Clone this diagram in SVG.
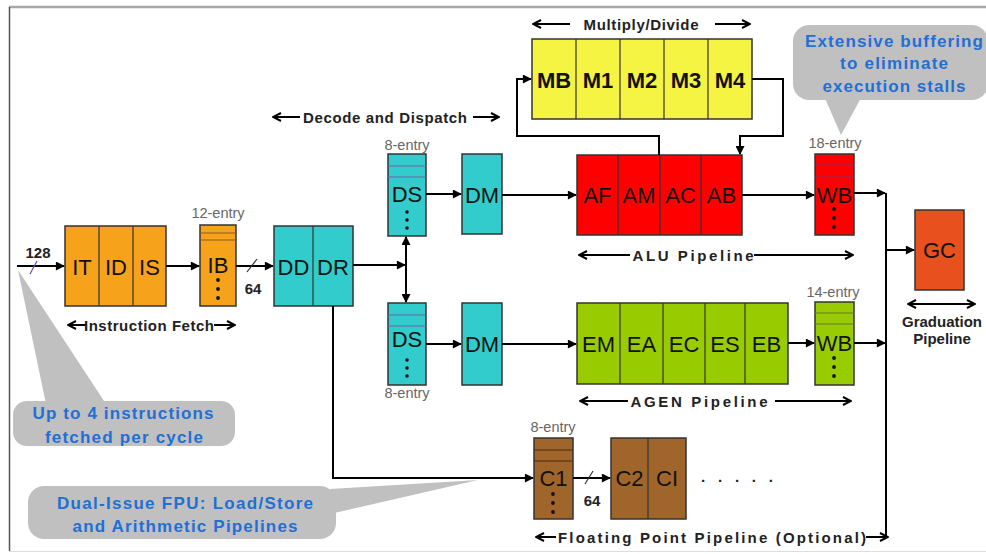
<svg xmlns="http://www.w3.org/2000/svg" width="986" height="554" viewBox="0 0 986 554">
<defs>
<marker id="ah" viewBox="0 0 10 10" refX="9" refY="5" markerWidth="10" markerHeight="9" markerUnits="userSpaceOnUse" orient="auto-start-reverse"><path d="M0,0 L10,5 L0,10 z" fill="#000"/></marker>
<marker id="ch" viewBox="0 0 10 10" refX="9" refY="5" markerWidth="10" markerHeight="10" markerUnits="userSpaceOnUse" orient="auto-start-reverse"><path d="M1,1 L9,5 L1,9" fill="none" stroke="#000" stroke-width="2"/></marker>
<style>
.box{stroke:#333;stroke-width:1.5}
.div{stroke:#333;stroke-width:1.2}
.lbl{font-family:"Liberation Sans",Arial,sans-serif;font-size:22px;fill:#111;text-anchor:middle;dominant-baseline:central}
.cap{font-family:"Liberation Sans",Arial,sans-serif;font-size:15px;font-weight:bold;fill:#222;text-anchor:middle;dominant-baseline:central}
.ent{font-family:"Liberation Sans",Arial,sans-serif;font-size:14.5px;fill:#666;text-anchor:middle}
.call{fill:#C0C0C0}
.ct{font-family:"Liberation Sans",Arial,sans-serif;font-size:17px;font-weight:bold;fill:#1E6FD6;text-anchor:middle}
.wire{fill:none;stroke:#000;stroke-width:2}
.la{fill:none;stroke:#000;stroke-width:2}
.dot{fill:#111}
</style>
</defs>
<rect width="986" height="554" fill="#fff"/>
<g id="frame">
<line x1="9" y1="7" x2="986" y2="7" stroke="#a8a8a8" stroke-width="2.5"/>
<line x1="9.5" y1="7" x2="9.5" y2="551" stroke="#555" stroke-width="1.5"/>
<line x1="9" y1="551.5" x2="986" y2="551.5" stroke="#ddd" stroke-width="1"/>
</g>

<g id="callout-fetch">
<polygon class="call" points="18,270 46,404 106,404"/>
<rect class="call" x="13" y="401" width="222" height="45" rx="14"/>
<text class="ct" x="123" y="419" textLength="181">Up to 4 instructions</text>
<text class="ct" x="124" y="443" textLength="158">fetched per cycle</text>
</g>
<g id="callout-fpu">
<polygon class="call" points="330,489 478,480 330,514"/>
<rect class="call" x="28" y="486" width="308" height="53" rx="16"/>
<text class="ct" x="185" y="509" textLength="256">Dual-Issue FPU: Load/Store</text>
<text class="ct" x="185" y="532" textLength="225">and Arithmetic Pipelines</text>
</g>
<g id="callout-buffer">
<polygon class="call" points="824,96 841,135 862,96"/>
<rect class="call" x="793" y="25" width="195" height="75" rx="16"/>
<text class="ct" x="894" y="47" textLength="178">Extensive buffering</text>
<text class="ct" x="894" y="69" textLength="108">to eliminate</text>
<text class="ct" x="894" y="92" textLength="143">execution stalls</text>
</g>

<g id="fetch">
<rect class="box" x="65" y="226" width="101" height="80" fill="#F7A21B"/>
<line class="div" x1="99" y1="226" x2="99" y2="306"/>
<line class="div" x1="133" y1="226" x2="133" y2="306"/>
<text class="lbl" x="82" y="267">IT</text>
<text class="lbl" x="116" y="267">ID</text>
<text class="lbl" x="149.5" y="267">IS</text>
</g>
<g id="ib">
<text class="ent" x="218" y="218">12-entry</text>
<rect class="box" x="200" y="225" width="36" height="81" fill="#F7A21B"/>
<line x1="200" y1="233" x2="236" y2="233" stroke="#8a5a20" stroke-width="1.2"/>
<line x1="200" y1="240" x2="236" y2="240" stroke="#8a5a20" stroke-width="1.2"/>
<text class="lbl" x="218" y="265">IB</text>
<circle class="dot" cx="218" cy="280" r="1.9"/><circle class="dot" cx="218" cy="289" r="1.9"/><circle class="dot" cx="218" cy="298" r="1.9"/>
</g>
<g id="dd-dr">
<rect class="box" x="274" y="226" width="79" height="80" fill="#33CCCC"/>
<line class="div" x1="313" y1="226" x2="313" y2="306"/>
<text class="lbl" x="293.5" y="267">DD</text>
<text class="lbl" x="333" y="267">DR</text>
</g>
<g id="ds-alu">
<text class="ent" x="407" y="150">8-entry</text>
<rect class="box" x="388" y="154" width="38" height="82" fill="#33CCCC"/>
<line x1="388" y1="166" x2="426" y2="166" stroke="#6666aa" stroke-width="1.2"/>
<line x1="388" y1="177" x2="426" y2="177" stroke="#6666aa" stroke-width="1.2"/>
<text class="lbl" x="407" y="194">DS</text>
<circle class="dot" cx="407" cy="212" r="1.8"/><circle class="dot" cx="407" cy="220" r="1.8"/><circle class="dot" cx="407" cy="228" r="1.8"/>
</g>
<g id="dm-alu">
<rect class="box" x="462" y="154" width="40" height="80" fill="#33CCCC"/>
<text class="lbl" x="482" y="195">DM</text>
</g>
<g id="ds-agen">
<rect class="box" x="388" y="303" width="38" height="82" fill="#33CCCC"/>
<line x1="388" y1="315" x2="426" y2="315" stroke="#6666aa" stroke-width="1.2"/>
<line x1="388" y1="326" x2="426" y2="326" stroke="#6666aa" stroke-width="1.2"/>
<text class="lbl" x="407" y="339">DS</text>
<circle class="dot" cx="407" cy="360" r="1.8"/><circle class="dot" cx="407" cy="368" r="1.8"/><circle class="dot" cx="407" cy="376" r="1.8"/>
<text class="ent" x="407" y="398">8-entry</text>
</g>
<g id="dm-agen">
<rect class="box" x="462" y="303" width="40" height="82" fill="#33CCCC"/>
<text class="lbl" x="482" y="344">DM</text>
</g>
<g id="muldiv">
<rect class="box" x="532" y="39" width="220" height="80" fill="#F6F442"/>
<line class="div" x1="576" y1="39" x2="576" y2="119"/>
<line class="div" x1="620" y1="39" x2="620" y2="119"/>
<line class="div" x1="664" y1="39" x2="664" y2="119"/>
<line class="div" x1="708" y1="39" x2="708" y2="119"/>
<text class="lbl" x="554" y="80" font-weight="bold">MB</text>
<text class="lbl" x="598" y="80" font-weight="bold">M1</text>
<text class="lbl" x="642" y="80" font-weight="bold">M2</text>
<text class="lbl" x="686" y="80" font-weight="bold">M3</text>
<text class="lbl" x="730" y="80" font-weight="bold">M4</text>
</g>
<g id="alu">
<rect class="box" x="577" y="155" width="165" height="80" fill="#FF0000"/>
<line class="div" x1="618" y1="155" x2="618" y2="235"/>
<line class="div" x1="660" y1="155" x2="660" y2="235"/>
<line class="div" x1="701" y1="155" x2="701" y2="235"/>
<text class="lbl" x="597.5" y="195">AF</text>
<text class="lbl" x="639" y="195">AM</text>
<text class="lbl" x="680.5" y="195">AC</text>
<text class="lbl" x="721.5" y="195">AB</text>
</g>
<g id="wb-alu">
<text class="ent" x="835" y="148">18-entry</text>
<rect class="box" x="815" y="154" width="39" height="81" fill="#FF0000"/>
<line x1="815" y1="165" x2="854" y2="165" stroke="#8a2a6a" stroke-width="1.2"/>
<line x1="815" y1="177" x2="854" y2="177" stroke="#8a2a6a" stroke-width="1.2"/>
<text class="lbl" x="834.5" y="195">WB</text>
<circle class="dot" cx="834" cy="209" r="1.9"/><circle class="dot" cx="834" cy="218" r="1.9"/><circle class="dot" cx="834" cy="227" r="1.9"/>
</g>
<g id="agen">
<rect class="box" x="577" y="303" width="211" height="81" fill="#99CC00"/>
<line class="div" x1="620" y1="303" x2="620" y2="384"/>
<line class="div" x1="663" y1="303" x2="663" y2="384"/>
<line class="div" x1="705" y1="303" x2="705" y2="384"/>
<line class="div" x1="745" y1="303" x2="745" y2="384"/>
<text class="lbl" x="598.5" y="344">EM</text>
<text class="lbl" x="641.5" y="344">EA</text>
<text class="lbl" x="684" y="344">EC</text>
<text class="lbl" x="725" y="344">ES</text>
<text class="lbl" x="766.5" y="344">EB</text>
</g>
<g id="wb-agen">
<text class="ent" x="833" y="297">14-entry</text>
<rect class="box" x="815" y="302" width="39" height="83" fill="#99CC00"/>
<line x1="815" y1="313" x2="854" y2="313" stroke="#667733" stroke-width="1.2"/>
<line x1="815" y1="324" x2="854" y2="324" stroke="#667733" stroke-width="1.2"/>
<text class="lbl" x="834.5" y="343">WB</text>
<circle class="dot" cx="834" cy="358" r="1.9"/><circle class="dot" cx="834" cy="367" r="1.9"/><circle class="dot" cx="834" cy="376" r="1.9"/>
</g>
<g id="gc">
<rect class="box" x="915" y="210" width="49" height="80" fill="#E8501E"/>
<text class="lbl" x="939.5" y="250">GC</text>
</g>
<g id="c1">
<text class="ent" x="553" y="432">8-entry</text>
<rect class="box" x="534" y="438" width="39" height="81" fill="#A0652B"/>
<line x1="534" y1="450" x2="573" y2="450" stroke="#4a2a10" stroke-width="1.2"/>
<line x1="534" y1="461" x2="573" y2="461" stroke="#4a2a10" stroke-width="1.2"/>
<text class="lbl" x="553.5" y="478">C1</text>
<circle class="dot" cx="553" cy="494" r="1.9"/><circle class="dot" cx="553" cy="503" r="1.9"/><circle class="dot" cx="553" cy="512" r="1.9"/>
</g>
<g id="c2-ci">
<rect class="box" x="611" y="438" width="75" height="81" fill="#A0652B"/>
<line class="div" x1="648" y1="438" x2="648" y2="519"/>
<text class="lbl" x="629.5" y="478">C2</text>
<text class="lbl" x="667" y="478">CI</text>
<text class="cap" x="737" y="476" font-size="18" textLength="72">. . . . .</text>
</g>

<g id="connectors">
<path class="wire" d="M17,266 H64" marker-end="url(#ah)"/>
<line x1="30" y1="274" x2="37" y2="261" stroke="#6a4aa8" stroke-width="1.2"/>
<path class="wire" d="M166,266 H199" marker-end="url(#ah)"/>
<path class="wire" d="M236,266 H273" marker-end="url(#ah)"/>
<line x1="247" y1="272" x2="257" y2="259" stroke="#333" stroke-width="1.2"/>
<path class="wire" d="M353,265 H405" marker-end="url(#ah)"/>
<path class="wire" d="M406,265 V237" marker-end="url(#ah)"/>
<path class="wire" d="M406,265 V302" marker-end="url(#ah)"/>
<path class="wire" d="M426,194 H461" marker-end="url(#ah)"/>
<path class="wire" d="M426,344 H461" marker-end="url(#ah)"/>
<path class="wire" d="M502,195 H576" marker-end="url(#ah)"/>
<path class="wire" d="M502,344 H576" marker-end="url(#ah)"/>
<path class="wire" d="M742,195 H814" marker-end="url(#ah)"/>
<path class="wire" d="M788,343 H814" marker-end="url(#ah)"/>
<path class="wire" d="M854,193 H885" marker-end="url(#ah)"/>
<path class="wire" d="M854,343 H885" marker-end="url(#ah)"/>
<path class="wire" d="M886,193 V537" stroke-width="1.5"/>
<path class="wire" d="M886,250 H914" marker-end="url(#ah)"/>
<path class="wire" d="M659,155 V136 H517 V79 H531" marker-end="url(#ah)"/>
<path class="wire" d="M752,79 H783 V136 H740 V154" marker-end="url(#ah)"/>
<path class="wire" d="M333,306 V478 H533" marker-end="url(#ah)"/>
<path class="wire" d="M573,478 H610" marker-end="url(#ah)"/>
<line x1="585" y1="484" x2="593" y2="471" stroke="#333" stroke-width="1.2"/>
</g>

<g id="labels">
<text class="cap" x="38" y="252">128</text>
<text class="cap" x="253" y="288">64</text>
<text class="cap" x="592" y="500">64</text>
<path class="la" d="M86,325 H68" marker-end="url(#ch)"/>
<text class="cap" x="149" y="325" textLength="130">Instruction Fetch</text>
<path class="la" d="M214,325 H235" marker-end="url(#ch)"/>
<path class="la" d="M300,117 H273" marker-end="url(#ch)"/>
<text class="cap" x="385" y="117" textLength="164">Decode and Dispatch</text>
<path class="la" d="M473,117 H499" marker-end="url(#ch)"/>
<path class="la" d="M570,24 H533" marker-end="url(#ch)"/>
<text class="cap" x="641" y="24" textLength="115">Multiply/Divide</text>
<path class="la" d="M715,24 H750" marker-end="url(#ch)"/>
<path class="la" d="M630,255 H579" marker-end="url(#ch)"/>
<text class="cap" x="693" y="255" font-size="18" textLength="121">ALU Pipeline</text>
<path class="la" d="M754,255 H853" marker-end="url(#ch)"/>
<path class="la" d="M628,401 H580" marker-end="url(#ch)"/>
<text class="cap" x="699" y="401" font-size="18" textLength="137">AGEN Pipeline</text>
<path class="la" d="M775,401 H851" marker-end="url(#ch)"/>
<path class="la" d="M908,304 H975" marker-start="url(#ch)" marker-end="url(#ch)"/>
<text class="cap" x="942" y="321" font-size="15" fill="#333">Graduation</text>
<text class="cap" x="942" y="338" font-size="15" fill="#333">Pipeline</text>
<path class="la" d="M556,537 H536" marker-end="url(#ch)"/>
<text class="cap" x="712" y="537" font-size="17" textLength="308">Floating Point Pipeline (Optional)</text>
<path class="la" d="M866,537 H888" marker-end="url(#ch)"/>
</g>
</svg>
